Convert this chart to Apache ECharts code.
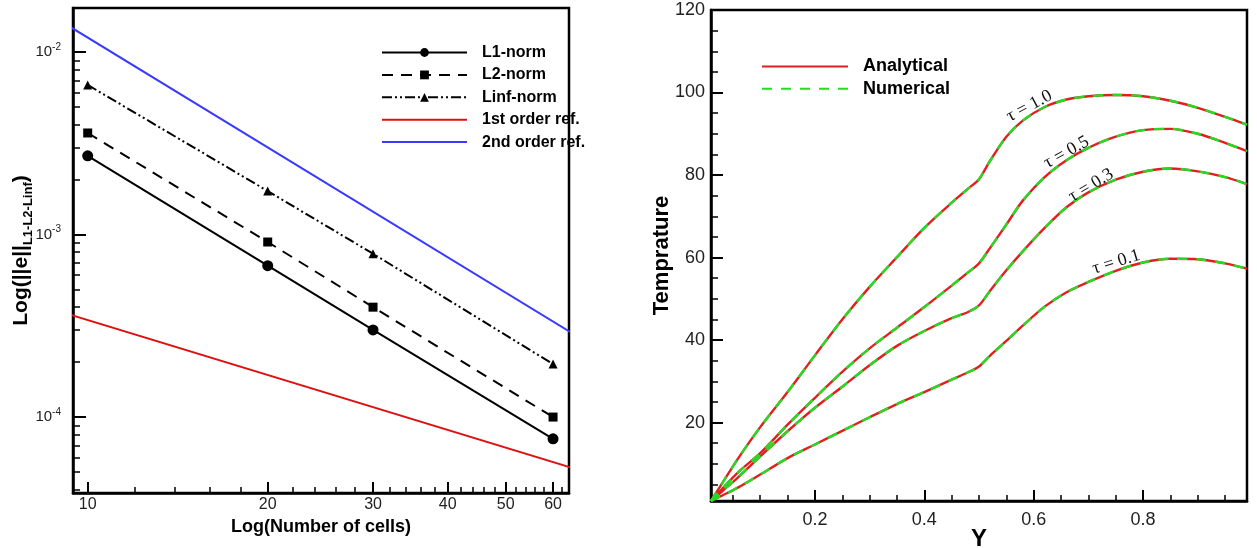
<!DOCTYPE html>
<html><head><meta charset="utf-8">
<script src="https://cdn.jsdelivr.net/npm/echarts@6/dist/echarts.min.js"></script>
<style>html,body{margin:0;padding:0;background:#fff}#c{width:1257px;height:548px}</style>
</head><body><div id="c"></div>
<script>
// ---------- Left panel: convergence (log-log) ----------
const cells = [10, 20, 30, 60];
const l1Norm = [2.70e-3, 6.75e-4, 3.00e-4, 7.6e-5];
const l2Norm = [3.60e-3, 9.1e-4, 4.0e-4, 1.0e-4];
const linfNorm = [6.6e-3, 1.73e-3, 7.85e-4, 1.95e-4];
const refCells = [9, 70];
const firstOrderRef = [3.78e-4, 4.86e-5];
const secondOrderRef = [1.48e-2, 2.45e-4];
const cellTicks = [10, 20, 30, 40, 50, 60];
const cellMinorTicks = [12,14,16,18,22,24,26,28,32,34,36,38,42,44,46,48,52,54,56,58,62];
const errorExponents = [-4, -3, -2];
const errorMinorTicks = [4e-5,5e-5,6e-5,7e-5,8e-5,9e-5,2e-4,3e-4,4e-4,5e-4,6e-4,7e-4,8e-4,9e-4,2e-3,3e-3,4e-3,5e-3,6e-3,7e-3,8e-3,9e-3];

// ---------- Right panel: temperature profiles ----------
const yPos = [0.01,0.03,0.06,0.1,0.15,0.2,0.25,0.3,0.35,0.4,0.45,0.48,0.5,0.52,0.55,0.58,0.62,0.66,0.7,0.75,0.8,0.85,0.9,0.95,0.99];
const tempTau10 = [1.0,5.2,11.4,18.9,27.4,36.3,45.0,52.9,60.1,67.2,73.3,76.7,79.0,83.4,89.3,93.2,96.5,98.3,99.1,99.4,99.1,98.0,96.3,94.1,92.2];
const tempTau05 = [1.0,3.9,8.0,12.6,19.5,26.0,32.3,38.0,43.0,48.0,53.2,56.4,58.6,62.3,68.0,73.8,79.5,83.6,86.6,89.3,90.9,91.2,90.0,87.8,85.8];
const tempTau03 = [1.0,3.3,6.8,11.8,17.9,23.6,28.7,33.9,38.6,42.2,45.3,46.8,48.4,51.9,56.9,61.5,67.2,72.2,75.8,78.9,80.8,81.6,80.9,79.5,77.8];
const tempTau01 = [1.0,2.3,4.3,7.4,11.4,14.7,18.0,21.3,24.5,27.4,30.4,32.2,33.6,36.2,39.8,43.5,48.1,51.6,54.1,56.8,58.8,59.7,59.6,58.6,57.3];
const tauNames = ['\u03c4 = 1.0', '\u03c4 = 0.5', '\u03c4 = 0.3', '\u03c4 = 0.1'];
const yTicks = [0.2, 0.4, 0.6, 0.8];
const yMinorTicks = [0.05,0.1,0.15,0.25,0.3,0.35,0.45,0.5,0.55,0.65,0.7,0.75,0.85,0.9,0.95];
const tempTicks = [20, 40, 60, 80, 100, 120];
const tempMinorTicks = [5,10,15,25,30,35,45,50,55,65,70,75,85,90,95,105,110,115];

// ---------- build ----------
const lg = v => Math.log10(v);
const logPairs = (xs, ys) => xs.map((x, i) => [lg(x), lg(ys[i])]);
const linPairs = (xs, ys) => xs.map((x, i) => [x, ys[i]]);
const FONT = 'Liberation Sans, Arial, sans-serif';
const nameStyle = {color: '#000', fontSize: 18, fontWeight: 'bold', fontFamily: FONT};
const axisLineS = {show: true, lineStyle: {color: '#000', width: 2.5}};

function majorAxis(extra) {
  return Object.assign({type: 'value', splitLine: {show: false}, axisLine: axisLineS, nameMoveOverlap: false}, extra);
}
function minorAxis(gridIndex, pos, min, max, ticks, len) {
  return {type: 'value', gridIndex, position: pos, min, max, offset: 0,
    axisLine: {show: false}, splitLine: {show: false}, axisLabel: {show: false},
    axisTick: {show: true, inside: true, length: len, customValues: ticks, lineStyle: {color: '#000', width: 1.5}}};
}

const xL = [lg(9.45), lg(63.8)];
const yL = [-4.416, -1.759];

const option = {
  animation: false,
  backgroundColor: '#fff',
  grid: [
    {left: 73, right: 688, top: 8, bottom: 55, show: true, borderColor: '#000', borderWidth: 2.5, outerBoundsMode: 'none', containLabel: false},
    {left: 711, right: 10, top: 10, bottom: 47, show: true, borderColor: '#000', borderWidth: 2.5, outerBoundsMode: 'none', containLabel: false}
  ],
  xAxis: [
    majorAxis({gridIndex: 0, position: 'bottom', min: xL[0], max: xL[1],
      axisTick: {inside: true, length: 11, customValues: cellTicks.map(lg), lineStyle: {color: '#000', width: 2}},
      axisLabel: {customValues: cellTicks.map(lg), margin: 4, color: '#222', fontSize: 16, fontFamily: FONT,
        formatter: v => String(Math.round(Math.pow(10, v)))},
      name: 'Log(Number of cells)', nameLocation: 'middle', nameGap: 25, nameTextStyle: nameStyle}),
    minorAxis(0, 'bottom', xL[0], xL[1], cellMinorTicks.map(lg), 6),
    majorAxis({gridIndex: 1, position: 'bottom', min: 0.01, max: 0.99,
      axisTick: {inside: true, length: 11, customValues: yTicks, lineStyle: {color: '#000', width: 2}},
      axisLabel: {customValues: yTicks, margin: 10, color: '#222', fontSize: 18, fontFamily: FONT, formatter: v => v.toFixed(1)},
      name: 'Y', nameLocation: 'middle', nameGap: 26, nameTextStyle: Object.assign({}, nameStyle, {fontSize: 24})}),
    minorAxis(1, 'bottom', 0.01, 0.99, yMinorTicks, 6)
  ],
  yAxis: [
    majorAxis({gridIndex: 0, position: 'left', min: yL[0], max: yL[1],
      axisTick: {inside: true, length: 13, customValues: errorExponents, lineStyle: {color: '#000', width: 2}},
      axisLabel: {customValues: errorExponents, margin: 12, formatter: v => '{b|10}{s|' + v + '}',
        rich: {b: {fontSize: 15, color: '#222', fontFamily: FONT, lineHeight: 20},
               s: {fontSize: 10, color: '#222', fontFamily: FONT, verticalAlign: 'top', lineHeight: 20}}},
      name: 'Log(||e||{sub|L1-L2-Linf})', nameLocation: 'middle', nameGap: 38,
      nameTextStyle: Object.assign({}, nameStyle, {fontSize: 21, lineHeight: 28,
        rich: {sub: {fontSize: 13, fontWeight: 'bold', fontFamily: FONT, color: '#000', verticalAlign: 'bottom', lineHeight: 28}}})}),
    minorAxis(0, 'left', yL[0], yL[1], errorMinorTicks.map(lg), 7),
    majorAxis({gridIndex: 1, position: 'left', min: 1, max: 120,
      axisTick: {inside: true, length: 12, customValues: tempTicks, lineStyle: {color: '#000', width: 2}},
      axisLabel: {customValues: tempTicks, margin: 6, color: '#222', fontSize: 18, fontFamily: FONT},
      name: 'Temprature', nameLocation: 'middle', nameGap: 38, nameTextStyle: Object.assign({}, nameStyle, {fontSize: 22})}),
    minorAxis(1, 'left', 1, 120, tempMinorTicks, 7)
  ],
  legend: [
    {data: [{name: 'L1-norm'}, {name: 'L2-norm'}, {name: 'Linf-norm'},
            {name: '1st order ref.', itemStyle: {opacity: 0}}, {name: '2nd order ref.', itemStyle: {opacity: 0}}],
     orient: 'vertical', left: 381, top: 44.5, padding: 0, itemWidth: 85, itemHeight: 11, itemGap: 6.4,
     textStyle: {fontSize: 16, fontWeight: 'bold', color: '#000', fontFamily: FONT, padding: [0, 0, 0, 10]}},
    {data: [{name: 'Analytical', itemStyle: {opacity: 0}}, {name: 'Numerical', itemStyle: {opacity: 0}}],
     orient: 'vertical', left: 761, top: 57.5, padding: 0, itemWidth: 86, itemHeight: 11, itemGap: 4.2,
     textStyle: {fontSize: 18, fontWeight: 'bold', color: '#000', fontFamily: FONT, padding: [0, 0, 0, 10]}}
  ],
  series: []
};

const S = option.series;
S.push({name: '1st order ref.', type: 'line', xAxisIndex: 0, yAxisIndex: 0, data: logPairs(refCells, firstOrderRef),
  showSymbol: false, symbol: 'none', lineStyle: {color: '#dd1111', width: 2}, itemStyle: {color: '#dd1111'}});
S.push({name: '2nd order ref.', type: 'line', xAxisIndex: 0, yAxisIndex: 0, data: logPairs(refCells, secondOrderRef),
  showSymbol: false, symbol: 'none', lineStyle: {color: '#3a3aff', width: 2}, itemStyle: {color: '#3a3aff'}});
S.push({name: 'L1-norm', type: 'line', xAxisIndex: 0, yAxisIndex: 0, data: logPairs(cells, l1Norm),
  symbol: 'circle', symbolSize: 11, lineStyle: {color: '#000', width: 2}, itemStyle: {color: '#000'}});
S.push({name: 'L2-norm', type: 'line', xAxisIndex: 0, yAxisIndex: 0, data: logPairs(cells, l2Norm),
  symbol: 'rect', symbolSize: 9, lineStyle: {color: '#000', width: 2, type: [11, 8]}, itemStyle: {color: '#000'}});
S.push({name: 'Linf-norm', type: 'line', xAxisIndex: 0, yAxisIndex: 0, data: logPairs(cells, linfNorm),
  symbol: 'triangle', symbolSize: 9, lineStyle: {color: '#000', width: 2, type: [10, 3, 2, 3, 2, 3]}, itemStyle: {color: '#000'}});

const temps = [tempTau10, tempTau05, tempTau03, tempTau01];
// label anchors (data coords) and rotation for the tau annotations
const tauAnchors = [[0.592, 96.7, 28], [0.660, 85.5, 29], [0.705, 77.5, 31], [0.751, 58.9, 17]];
temps.forEach((t, i) => {
  S.push({name: 'Analytical', type: 'line', xAxisIndex: 2, yAxisIndex: 2, data: linPairs(yPos, t),
    smooth: 0.3, showSymbol: false, symbol: 'none', lineStyle: {color: '#e02020', width: 2.4}, itemStyle: {color: '#e02020'}});
});
temps.forEach((t, i) => {
  S.push({name: 'Numerical', type: 'line', xAxisIndex: 2, yAxisIndex: 2, data: linPairs(yPos, t),
    smooth: 0.3, showSymbol: false, symbol: 'none', lineStyle: {color: '#22dd22', width: 2.4, type: [10, 9]}, itemStyle: {color: '#22dd22'},
    markPoint: {symbol: 'circle', symbolSize: 0, silent: true,
      data: [{coord: [tauAnchors[i][0], tauAnchors[i][1]],
        label: {show: true, position: 'inside', formatter: tauNames[i], rotate: tauAnchors[i][2],
          fontFamily: 'Liberation Serif, Times New Roman, serif', fontSize: 18, color: '#111'}}]}});
});

const chart = echarts.init(document.getElementById('c'), null, {renderer: 'canvas'});
chart.setOption(option);
</script>
</body></html>
